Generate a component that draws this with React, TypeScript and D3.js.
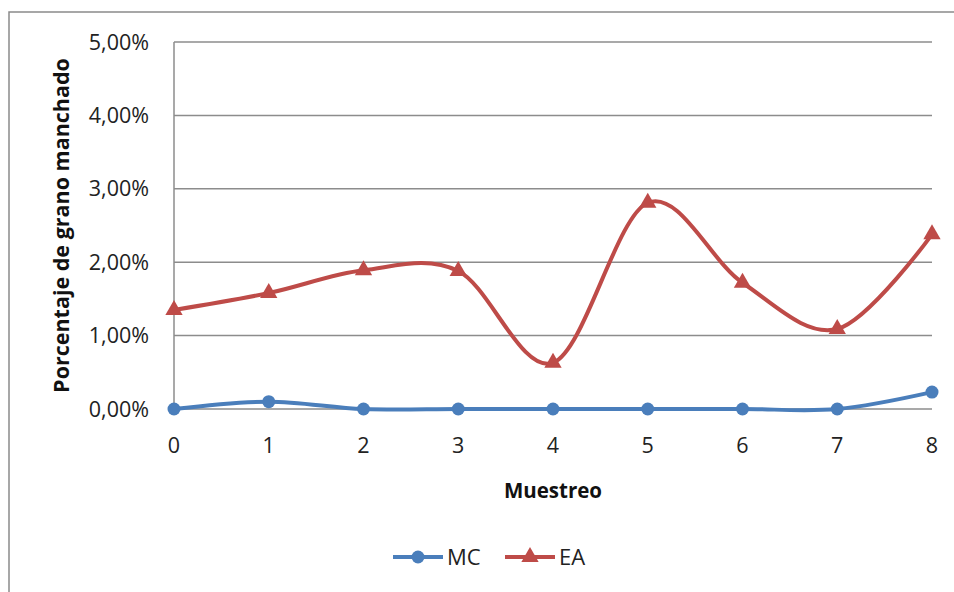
import * as d3 from 'd3';
import React, { useEffect, useRef } from 'react';

const muestreos = [0, 1, 2, 3, 4, 5, 6, 7, 8];
const mcValues = [0.0, 0.001, 0.0, 0.0, 0.0, 0.0, 0.0, 0.0, 0.0023];
const eaValues = [0.0135, 0.0158, 0.0189, 0.0188, 0.0063, 0.0281, 0.0172, 0.0109, 0.0238];
const yTicks = [0, 0.01, 0.02, 0.03, 0.04, 0.05];

const BLUE = '#4a7ebb';
const RED = '#be4b48';
const GRID = '#8c8c8c';
const FONT = "'Open Sans', 'Liberation Sans', sans-serif";

const App: React.FC = () => {
  const svgRef = useRef<SVGSVGElement | null>(null);

  useEffect(() => {
    if (!svgRef.current) return;
    const svg = d3.select(svgRef.current);
    svg.selectAll('*').remove();

    const width = 954;
    const height = 592;
    const margin = { top: 42, right: 22, bottom: 183, left: 174 };

    const xScale = d3
      .scaleLinear()
      .domain([0, 8])
      .range([margin.left, width - margin.right]);
    const yScale = d3
      .scaleLinear()
      .domain([0, 0.05])
      .range([height - margin.bottom, margin.top]);

    svg.append('rect').attr('width', width).attr('height', height).attr('fill', '#fff');

    // outer chart border
    svg
      .append('path')
      .attr('d', `M9,${height} V12 H${width}`)
      .attr('fill', 'none')
      .attr('stroke', '#8a8a8a')
      .attr('stroke-width', 1.5);

    const fmt = (v: number) => (v * 100).toFixed(2).replace('.', ',') + '%';

    // gridlines
    svg
      .append('g')
      .selectAll('line')
      .data(yTicks)
      .enter()
      .append('line')
      .attr('x1', xScale(0))
      .attr('x2', xScale(8))
      .attr('y1', (d) => yScale(d))
      .attr('y2', (d) => yScale(d))
      .attr('stroke', GRID)
      .attr('stroke-width', 1.5);

    // y axis line
    svg
      .append('line')
      .attr('x1', xScale(0))
      .attr('x2', xScale(0))
      .attr('y1', yScale(0))
      .attr('y2', yScale(0.05))
      .attr('stroke', GRID)
      .attr('stroke-width', 1.5);

    // y tick labels
    svg
      .append('g')
      .selectAll('text')
      .data(yTicks)
      .enter()
      .append('text')
      .attr('x', xScale(0) - 25)
      .attr('y', (d) => yScale(d))
      .attr('dy', '0.35em')
      .attr('text-anchor', 'end')
      .style('font-family', FONT)
      .style('font-size', '21.5px')
      .attr('fill', '#222')
      .text(fmt);

    // x tick labels
    svg
      .append('g')
      .selectAll('text')
      .data(muestreos)
      .enter()
      .append('text')
      .attr('x', (d) => xScale(d))
      .attr('y', yScale(0) + 44)
      .attr('text-anchor', 'middle')
      .style('font-family', FONT)
      .style('font-size', '21.5px')
      .attr('fill', '#222')
      .text((d) => String(d));

    // axis titles
    svg
      .append('text')
      .attr('x', (xScale(0) + xScale(8)) / 2)
      .attr('y', 498)
      .attr('text-anchor', 'middle')
      .style('font-family', FONT)
      .style('font-size', '20.5px')
      .style('font-weight', 'bold')
      .attr('fill', '#111')
      .text('Muestreo');

    svg
      .append('text')
      .attr('transform', `translate(69, ${(yScale(0) + yScale(0.05)) / 2}) rotate(-90)`)
      .attr('text-anchor', 'middle')
      .style('font-family', FONT)
      .style('font-size', '21.5px')
      .style('font-weight', 'bold')
      .attr('fill', '#111')
      .text('Porcentaje de grano manchado');

    const line = d3
      .line<number>()
      .x((_, i) => xScale(muestreos[i]))
      .y((d) => yScale(d))
      .curve(d3.curveCardinal.tension(0));

    const tri = d3.symbol().type(d3.symbolTriangle).size(130);

    // MC series
    svg
      .append('path')
      .datum(mcValues)
      .attr('fill', 'none')
      .attr('stroke', BLUE)
      .attr('stroke-width', 4)
      .attr('d', line);
    svg
      .append('g')
      .selectAll('circle')
      .data(mcValues)
      .enter()
      .append('circle')
      .attr('cx', (_, i) => xScale(muestreos[i]))
      .attr('cy', (d) => yScale(d))
      .attr('r', 6.5)
      .attr('fill', BLUE);

    // EA series
    svg
      .append('path')
      .datum(eaValues)
      .attr('fill', 'none')
      .attr('stroke', RED)
      .attr('stroke-width', 4)
      .attr('d', line);
    svg
      .append('g')
      .selectAll('path')
      .data(eaValues)
      .enter()
      .append('path')
      .attr('transform', (d, i) => `translate(${xScale(muestreos[i])},${yScale(d)})`)
      .attr('d', tri)
      .attr('fill', RED);

    // legend
    const legend = svg.append('g').attr('transform', 'translate(0, 557)');
    const items = [
      { label: 'MC', color: BLUE, x: 393, marker: 'circle' },
      { label: 'EA', color: RED, x: 505, marker: 'triangle' },
    ];
    items.forEach((it) => {
      legend
        .append('line')
        .attr('x1', it.x)
        .attr('x2', it.x + 50)
        .attr('y1', 0)
        .attr('y2', 0)
        .attr('stroke', it.color)
        .attr('stroke-width', 4);
      if (it.marker === 'circle') {
        legend
          .append('circle')
          .attr('cx', it.x + 25)
          .attr('cy', 0)
          .attr('r', 6.5)
          .attr('fill', it.color);
      } else {
        legend
          .append('path')
          .attr('transform', `translate(${it.x + 25},0)`)
          .attr('d', tri)
          .attr('fill', it.color);
      }
      legend
        .append('text')
        .attr('x', it.x + 54)
        .attr('y', 0)
        .attr('dy', '0.35em')
        .style('font-family', FONT)
        .style('font-size', '22px')
        .attr('fill', '#222')
        .text(it.label);
    });
  }, []);

  return (
    <svg
      ref={svgRef}
      width={954}
      height={592}
      style={{ position: 'absolute', left: 0, top: 0 }}
    />
  );
};

export default App;
